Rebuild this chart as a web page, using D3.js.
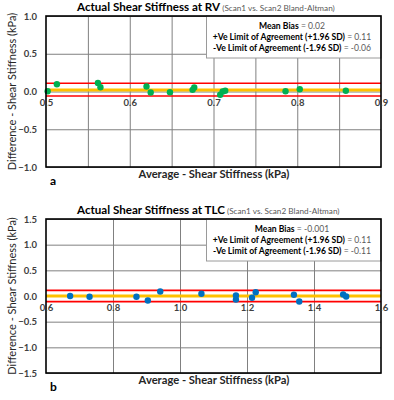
<html>
  <meta charset="utf-8" />
  <script src="https://d3js.org/d3.v7.min.js"></script>
  <body style="margin: 0; background: #fff">
    <svg width="394" height="400" id="chart"></svg>
    <script>
      // panel a: RV
      const rvAvg = [0.502, 0.513, 0.562, 0.565, 0.62, 0.625, 0.648, 0.675, 0.677, 0.708, 0.711, 0.714, 0.786, 0.803, 0.858];
      const rvDiff = [0.004, 0.096, 0.114, 0.057, 0.066, -0.013, -0.009, 0.022, 0.053, -0.043, 0.0, 0.009, 0.004, 0.03, 0.009];
      const rvStats = [0.02, 0.11, -0.06]; // mean, upper, lower
      const rvXTicks = [0.5, 0.6, 0.7, 0.8, 0.9];
      const rvXGrid = [0.55, 0.6, 0.65, 0.7, 0.75, 0.8, 0.85];
      const rvYTicks = [-1.0, -0.5, 0.0, 0.5, 1.0];

      // panel b: TLC
      const tlcAvg = [0.672, 0.73, 0.87, 0.904, 0.941, 1.064, 1.167, 1.167, 1.215, 1.226, 1.34, 1.356, 1.487, 1.496];
      const tlcDiff = [0.0, -0.016, -0.016, -0.088, 0.088, 0.043, 0.01, -0.07, -0.035, 0.074, 0.023, -0.107, 0.029, -0.01];
      const tlcStats = [-0.001, 0.11, -0.11];
      const tlcXTicks = [0.6, 0.8, 1.0, 1.2, 1.4, 1.6];
      const tlcXGrid = [0.8, 1.0, 1.2, 1.4];
      const tlcYTicks = [-1.5, -1.0, -0.5, 0.0, 0.5, 1.0, 1.5];

      const svg = d3.select("#chart");
      const font = "Lato, 'Open Sans', sans-serif";
      const left = 46, right = 381;

      function panel(o) {
        const x = d3.scaleLinear().domain(o.xDomain).range([left, right]);
        const y = d3.scaleLinear().domain(o.yDomain).range([o.bottom, o.top]);
        const g = svg.append("g").style("font-family", font);

        // grid
        const vg = g.append("g")
          .attr("transform", `translate(0, ${o.top})`)
          .call(d3.axisBottom(x).tickValues(o.xGrid).tickSize(o.bottom - o.top).tickFormat(""));
        const hg = g.append("g")
          .attr("transform", `translate(${left}, 0)`)
          .call(d3.axisLeft(y).tickValues(o.yTicks).tickSize(-(right - left)).tickFormat(""));
        [vg, hg].forEach((a) => {
          a.select(".domain").remove();
          a.selectAll("line").attr("stroke", "#808080").attr("stroke-width", 1);
        });

        // legend box
        g.append("rect")
          .attr("x", 206.5).attr("y", o.top)
          .attr("width", right - 206.5).attr("height", 42)
          .attr("fill", "#fff").attr("stroke", "#9a9a9a").attr("stroke-width", 1);

        const lines = [
          ["Mean Bias", " = " + o.statText[0]],
          ["+Ve Limit of Agreement (+1.96 SD)", " = " + o.statText[1]],
          ["-Ve Limit of Agreement (-1.96 SD)", " = " + o.statText[2]],
        ];
        lines.forEach((l, i) => {
          const t = g.append("text")
            .attr("x", 292).attr("y", o.top + 13 + i * 11)
            .attr("text-anchor", "middle")
            .style("font-size", "8.6px");
          t.append("tspan").attr("font-weight", "bold").attr("fill", "#000").text(l[0]);
          t.append("tspan").attr("fill", "#595959").text(l[1]);
        });

        // limits and mean
        [o.stats[1], o.stats[2]].forEach((v) => {
          g.append("line")
            .attr("x1", left).attr("x2", right)
            .attr("y1", y(v)).attr("y2", y(v))
            .attr("stroke", "#ff0000").attr("stroke-width", 1.6);
        });
        g.append("line")
          .attr("x1", left).attr("x2", right)
          .attr("y1", y(o.stats[0])).attr("y2", y(o.stats[0]))
          .attr("stroke", "#ffc000").attr("stroke-width", 3);

        // points
        g.selectAll(".pt")
          .data(o.xs)
          .enter()
          .append("circle")
          .attr("cx", (d) => x(d))
          .attr("cy", (d, i) => y(o.ys[i]))
          .attr("r", 3.2)
          .attr("fill", o.color);

        // frame
        g.append("rect")
          .attr("x", left).attr("y", o.top)
          .attr("width", right - left).attr("height", o.bottom - o.top)
          .attr("fill", "none").attr("stroke", "#000").attr("stroke-width", 1.6);

        // tick labels
        const ya = g.append("g")
          .attr("transform", `translate(${left}, 0)`)
          .call(d3.axisLeft(y).tickValues(o.yTicks).tickSize(0).tickPadding(9).tickFormat(d3.format(".1f")));
        const xa = g.append("g")
          .attr("transform", `translate(0, ${y(0)})`)
          .call(d3.axisBottom(x).tickValues(o.xTicks).tickSize(0).tickPadding(8).tickFormat(d3.format(".1f")));
        [ya, xa].forEach((a) => {
          a.select(".domain").remove();
          a.selectAll("text")
            .attr("fill", "#404040")
            .attr("font-weight", "bold")
            .style("font-size", "9.5px")
            .style("font-family", font);
        });

        // titles
        const tt = g.append("text").attr("x", 77).attr("y", o.top - 5);
        tt.append("tspan").attr("font-weight", "bold").style("font-size", "11.6px").attr("fill", "#000").text(o.title);
        tt.append("tspan").style("font-size", "8.2px").attr("fill", "#595959").text(" (Scan1 vs. Scan2 Bland-Altman)");

        g.append("text")
          .attr("transform", `translate(12, ${(o.top + o.bottom) / 2}) rotate(-90)`)
          .attr("text-anchor", "middle")
          .attr("dy", "0.35em")
          .style("font-size", "11px")
          .attr("fill", "#262626")
          .text("Difference - Shear Stiffness (kPa)");

        g.append("text")
          .attr("x", 214).attr("y", o.bottom + 11)
          .attr("text-anchor", "middle")
          .attr("font-weight", "bold")
          .style("font-size", "11.2px")
          .attr("fill", "#262626")
          .text("Average - Shear Stiffness (kPa)");

        g.append("text")
          .attr("x", 50).attr("y", o.bottom + 18)
          .attr("font-weight", "bold")
          .style("font-size", "12px")
          .attr("fill", "#000")
          .text(o.letter);
      }

      panel({
        top: 16, bottom: 167,
        xDomain: [0.5, 0.9], yDomain: [-1, 1],
        xTicks: rvXTicks, xGrid: rvXGrid, yTicks: rvYTicks,
        xs: rvAvg, ys: rvDiff, stats: rvStats,
        statText: ["0.02", "0.11", "-0.06"],
        color: "#00b050",
        title: "Actual Shear Stiffness at RV",
        letter: "a",
      });

      panel({
        top: 219, bottom: 373,
        xDomain: [0.6, 1.6], yDomain: [-1.5, 1.5],
        xTicks: tlcXTicks, xGrid: tlcXGrid, yTicks: tlcYTicks,
        xs: tlcAvg, ys: tlcDiff, stats: tlcStats,
        statText: ["-0.001", "0.11", "-0.11"],
        color: "#0070c0",
        title: "Actual Shear Stiffness at TLC",
        letter: "b",
      });
    </script>
  </body>
</html>
